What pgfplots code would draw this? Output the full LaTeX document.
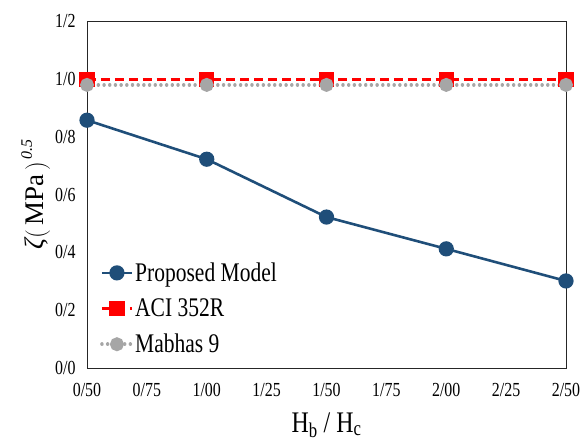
\documentclass[border=0pt]{standalone}
\usepackage{pgfplots}
\pgfplotsset{compat=1.18}
\usepackage{fontspec}
\setmainfont[FakeStretch=0.8]{Liberation Serif}
\newfontfamily\ylfont{Liberation Serif}
\definecolor{pblue}{HTML}{1F4E79}
\definecolor{mgrey}{HTML}{A6A6A6}
\begin{document}
\begin{tikzpicture}
\path[use as bounding box] (-87bp,-77bp) rectangle (495bp,368bp);
\begin{axis}[
  at={(0,0)}, anchor=south west,
  scale only axis,
  width=479bp, height=347bp,
  xmin=0.5, xmax=2.5, ymin=0, ymax=1.2,
  xtick={0.5,0.75,1,1.25,1.5,1.75,2,2.25,2.5},
  xticklabels={0/50,0/75,1/00,1/25,1/50,1/75,2/00,2/25,2/50},
  ytick={0,0.2,0.4,0.6,0.8,1.0,1.2},
  yticklabels={0/0,0/2,0/4,0/6,0/8,1/0,1/2},
  tick style={draw=none},
  ticklabel style={font=\fontsize{20}{20}\selectfont},
  xticklabel style={yshift=-12bp},
  yticklabel style={xshift=-8bp},
  clip=false,
  axis line style={black!85, line width=0.8pt},
  xlabel={H\textsubscript{b} / H\textsubscript{c}},
  xlabel style={font=\fontsize{30}{30}\selectfont, at={(axis description cs:0.5,0)}, anchor=base, yshift=-64bp},
  ylabel={{\itshape ζ}$\Bigl(\,$MPa$\,\Bigr)^{\hspace{2pt}\mbox{\fontsize{16}{16}\selectfont\ylfont\itshape 0.5}}$},
  ylabel style={font=\fontsize{27}{27}\selectfont\ylfont, at={(axis description cs:-0.09,0.5)}, anchor=base},
  legend style={draw=none, fill=none, at={(13bp,12bp)}, anchor=south west,
    font=\fontsize{27}{27}\selectfont, row sep=13pt, inner sep=0pt,
    nodes={inner sep=1.5pt}},
  legend cell align=left,
  legend image code/.code={\draw[mark repeat=2,mark phase=2,#1] plot coordinates {(0bp,0bp) (15bp,0bp) (30bp,0bp)};},
]
\addplot[pblue, line width=2.6pt, mark=*, mark size=6.3bp] coordinates {
 (0.5,0.857) (1.0,0.722) (1.5,0.522) (2.0,0.412) (2.5,0.301)};
\addlegendentry{Proposed Model}
\addplot[red, line width=3.3pt, dash pattern=on 9pt off 5pt, mark=square*, mark size=6bp, mark options={solid}] coordinates {
 (0.5,0.998) (1.0,0.998) (1.5,0.998) (2.0,0.998) (2.5,0.998)};
\addlegendentry{ACI 352R}
\addplot[mgrey, line width=3.5pt, dash pattern=on 0.01pt off 5.7pt, line cap=round, mark=*, mark size=5.2bp, mark options={solid}] coordinates {
 (0.5,0.979) (1.0,0.979) (1.5,0.979) (2.0,0.979) (2.5,0.979)};
\addlegendentry{Mabhas 9}
\end{axis}
\end{tikzpicture}
\end{document}
